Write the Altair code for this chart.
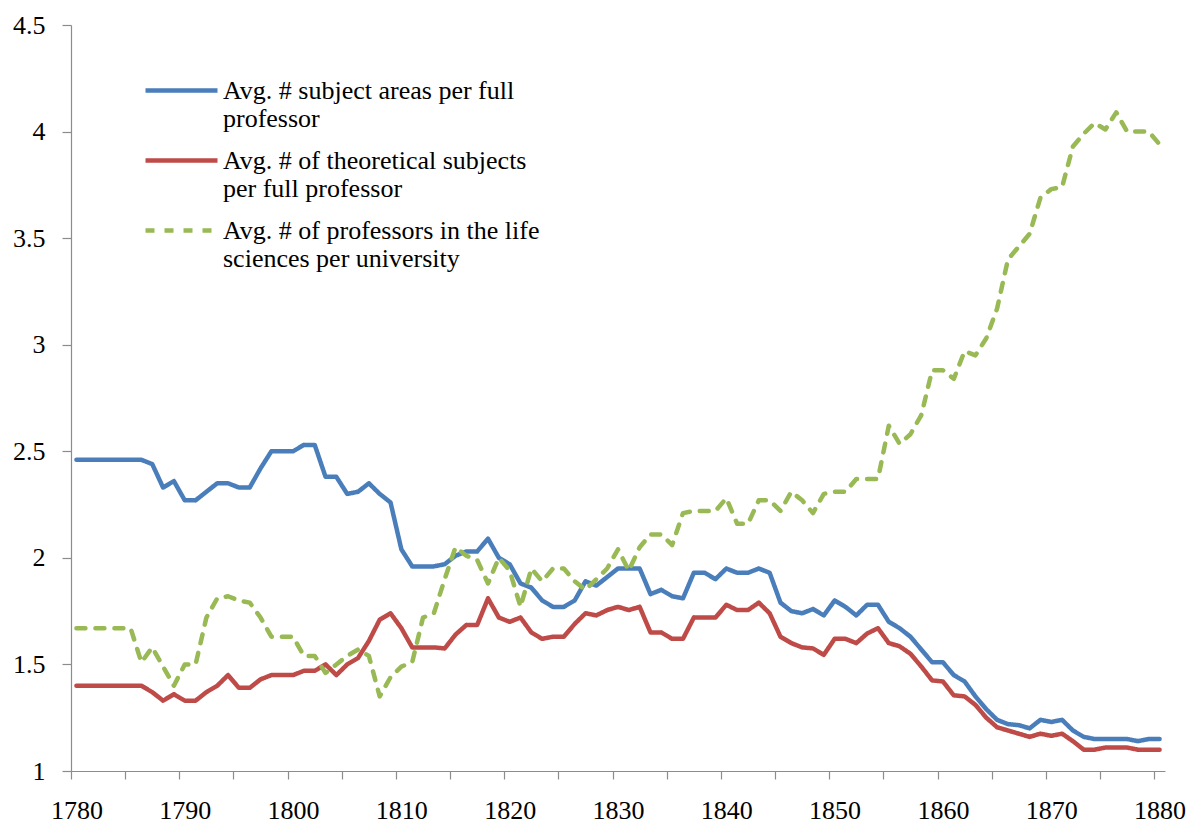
import altair as alt
import pandas as pd

years = list(range(1780, 1881))

series_names = [
    "Avg. # subject areas per full professor",
    "Avg. # of theoretical subjects per full professor",
    "Avg. # of professors in the life sciences per university",
]
legend_lines = [
    ["Avg. # subject areas per full", "professor"],
    ["Avg. # of theoretical subjects", "per full professor"],
    ["Avg. # of professors in the life", "sciences per university"],
]
series_colors = ["#4a7ebb", "#be4b48", "#98b954"]

subject_areas = [
    2.46, 2.46, 2.46, 2.46, 2.46, 2.46, 2.46, 2.44, 2.33, 2.36,  # 1780-1789
    2.27, 2.27, 2.31, 2.35, 2.35, 2.33, 2.33, 2.42, 2.50, 2.50,  # 1790-1799
    2.50, 2.53, 2.53, 2.38, 2.38, 2.30, 2.31, 2.35, 2.30, 2.26,  # 1800-1809
    2.04, 1.96, 1.96, 1.96, 1.97, 2.01, 2.03, 2.03, 2.09, 2.00,  # 1810-1819
    1.97, 1.88, 1.86, 1.80, 1.77, 1.77, 1.80, 1.89, 1.87, 1.91,  # 1820-1829
    1.95, 1.95, 1.95, 1.83, 1.85, 1.82, 1.81, 1.93, 1.93, 1.90,  # 1830-1839
    1.95, 1.93, 1.93, 1.95, 1.93, 1.79, 1.75, 1.74, 1.76, 1.73,  # 1840-1849
    1.80, 1.77, 1.73, 1.78, 1.78, 1.70, 1.67, 1.63, 1.57, 1.51,  # 1850-1859
    1.51, 1.45, 1.42, 1.35, 1.29, 1.24, 1.22, 1.215, 1.20, 1.24,  # 1860-1869
    1.23, 1.24, 1.19, 1.16, 1.15, 1.15, 1.15, 1.15, 1.14, 1.15,  # 1870-1879
    1.15,                                                        # 1880
]

theoretical = [
    1.40, 1.40, 1.40, 1.40, 1.40, 1.40, 1.40, 1.37, 1.33, 1.36,  # 1780-1789
    1.33, 1.33, 1.37, 1.40, 1.45, 1.39, 1.39, 1.43, 1.45, 1.45,  # 1790-1799
    1.45, 1.47, 1.47, 1.50, 1.45, 1.50, 1.53, 1.61, 1.71, 1.74,  # 1800-1809
    1.67, 1.58, 1.58, 1.58, 1.575, 1.64, 1.685, 1.685, 1.81, 1.72,  # 1810-1819
    1.70, 1.72, 1.65, 1.62, 1.63, 1.63, 1.69, 1.74, 1.73, 1.755,  # 1820-1829
    1.77, 1.755, 1.77, 1.65, 1.65, 1.62, 1.62, 1.72, 1.72, 1.72,  # 1830-1839
    1.78, 1.755, 1.755, 1.79, 1.74, 1.63, 1.60, 1.58, 1.575, 1.545,  # 1840-1849
    1.62, 1.62, 1.60, 1.645, 1.67, 1.60, 1.585, 1.55, 1.49, 1.425,  # 1850-1859
    1.42, 1.355, 1.35, 1.31, 1.25, 1.205, 1.19, 1.175, 1.16, 1.175,  # 1860-1869
    1.165, 1.175, 1.14, 1.10, 1.10, 1.11, 1.11, 1.11, 1.10, 1.10,  # 1870-1879
    1.10,                                                        # 1880
]

life_sciences = [
    1.67, 1.67, 1.67, 1.67, 1.67, 1.67, 1.51, 1.58, 1.49, 1.40,  # 1780-1789
    1.50, 1.50, 1.72, 1.81, 1.82, 1.80, 1.79, 1.72, 1.63, 1.63,  # 1790-1799
    1.63, 1.54, 1.54, 1.46, 1.50, 1.54, 1.57, 1.54, 1.35, 1.44,  # 1800-1809
    1.49, 1.51, 1.72, 1.74, 1.90, 2.05, 2.01, 1.99, 1.88, 2.00,  # 1810-1819
    1.94, 1.77, 1.95, 1.89, 1.95, 1.95, 1.89, 1.85, 1.90, 1.95,  # 1820-1829
    2.04, 1.94, 2.05, 2.11, 2.11, 2.06, 2.21, 2.22, 2.22, 2.22,  # 1830-1839
    2.28, 2.16, 2.16, 2.27, 2.27, 2.22, 2.31, 2.27, 2.21, 2.30,  # 1840-1849
    2.31, 2.31, 2.37, 2.37, 2.37, 2.62, 2.535, 2.58, 2.67, 2.88,  # 1850-1859
    2.88, 2.84, 2.97, 2.95, 3.03, 3.17, 3.40, 3.46, 3.52, 3.69,  # 1860-1869
    3.73, 3.74, 3.93, 3.99, 4.04, 4.01, 4.09, 4.00, 4.00, 4.00,  # 1870-1879
    3.94,                                                        # 1880
]

y_ticks = [1, 1.5, 2, 2.5, 3, 3.5, 4, 4.5]
x_tick_bounds = [1779.5 + 5 * i for i in range(21)]

rows = []
for name, vals in zip(series_names, [subject_areas, theoretical, life_sciences]):
    for yr, v in zip(years, vals):
        rows.append({"year": yr, "value": v, "series": name})
df = pd.DataFrame(rows)

label_expr = " : ".join(
    f"datum.label == '{n}' ? {lines!r}" for n, lines in zip(series_names, legend_lines)
) + " : datum.label"

FONT = "Liberation Serif"
AXIS_GRAY = "#8c8c8c"
FS = 26

legend = alt.Legend(
    title=None,
    orient="none",
    legendX=90,
    legendY=45,
    symbolType="M-2,0H2",
    symbolSize=1296,
    symbolStrokeWidth=4.5,
    symbolFillColor="transparent",
    labelFont=FONT,
    labelFontSize=FS,
    labelColor="black",
    labelExpr=label_expr,
    labelBaseline="middle",
    labelOffset=21,
    labelLimit=600,
    rowPadding=8,
    padding=0,
)

chart = (
    alt.Chart(df)
    .mark_line(strokeWidth=4.5, strokeCap="round", strokeJoin="round")
    .encode(
        x=alt.X(
            "year:Q",
            scale=alt.Scale(domain=[1779.5, 1880.5], nice=False, zero=False),
            axis=alt.Axis(
                title=None,
                grid=False,
                values=x_tick_bounds,
                labelExpr="(datum.value + 0.5) % 10 == 0 ? '' + (datum.value + 0.5) : ''",
                labelOffset=5.4,
                labelOverlap=False,
                labelFlush=False,
                tickSize=8,
                labelPadding=18,
                labelFont=FONT,
                labelFontSize=FS,
                labelColor="black",
                domainColor=AXIS_GRAY,
                tickColor=AXIS_GRAY,
                domainWidth=1.2,
                tickWidth=1.2,
            ),
        ),
        y=alt.Y(
            "value:Q",
            scale=alt.Scale(domain=[1, 4.5], nice=False, zero=False),
            axis=alt.Axis(
                title=None,
                grid=False,
                values=y_ticks,
                format="~g",
                tickSize=9,
                labelPadding=17,
                labelFont=FONT,
                labelFontSize=FS,
                labelColor="black",
                domainColor=AXIS_GRAY,
                tickColor=AXIS_GRAY,
                domainWidth=1.2,
                tickWidth=1.2,
            ),
        ),
        color=alt.Color(
            "series:N",
            scale=alt.Scale(domain=series_names, range=series_colors),
            legend=legend,
        ),
        strokeDash=alt.StrokeDash(
            "series:N",
            scale=alt.Scale(domain=series_names, range=[[1, 0], [1, 0], [9, 10]]),
            legend=legend,
        ),
    )
    .properties(
        width=1094,
        height=746,
        autosize=alt.AutoSizeParams(type="none"),
        padding={"left": 63, "top": 17, "right": 21, "bottom": 52},
    )
    .configure_view(stroke=None)
)

chart.save("out.html", embed_options={"renderer": "svg", "actions": False})
